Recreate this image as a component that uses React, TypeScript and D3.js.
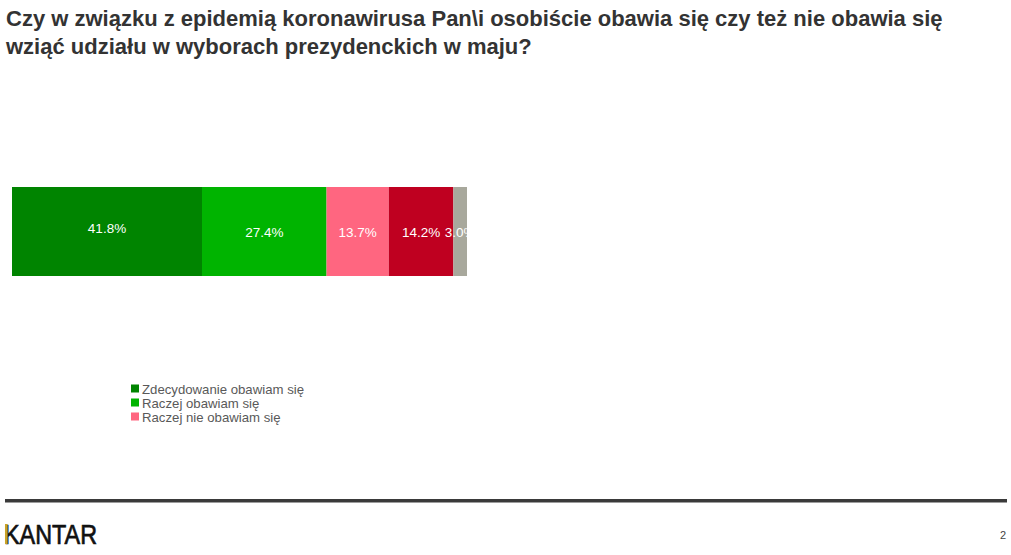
import { useEffect, useRef } from 'react';
import * as d3 from 'd3';

const titleLines = [
  'Czy w związku z epidemią koronawirusa Pan\\i osobiście obawia się czy też nie obawia się',
  'wziąć udziału w wyborach prezydenckich w maju?',
];
const categories = [
  'Zdecydowanie obawiam się',
  'Raczej obawiam się',
  'Raczej nie obawiam się',
  'Zdecydowanie nie obawiam się',
  'Trudno powiedzieć',
];
const values = [41.8, 27.4, 13.7, 14.2, 3.0];
const colors = ['#008400', '#00b400', '#ff6680', '#bf0020', '#a8a89c'];
const legendShown = 3;

export default function App() {
  const svgRef = useRef<SVGSVGElement>(null);

  useEffect(() => {
    document.body.style.margin = '0';
    if (!svgRef.current) return;
    const svg = d3.select(svgRef.current);
    svg.selectAll('*').remove();

    const W = 1011;
    const font = 'Liberation Sans, Arial, sans-serif';

    // title
    const title = svg.append('text')
      .attr('font-family', font)
      .attr('font-weight', 'bold')
      .attr('font-size', 22)
      .attr('fill', '#333333');
    titleLines.forEach((line, i) => {
      title.append('tspan').attr('x', 6).attr('y', 26 + i * 27.5).text(line);
    });

    // stacked bar
    const total = d3.sum(values);
    const x = d3.scaleLinear().domain([0, total]).range([12, 467]);
    const barTop = 187;
    const barH = 89;
    let acc = 0;
    const segs = values.map((v, i) => {
      const s = { start: acc, end: acc + v, v, i };
      acc += v;
      return s;
    });

    const g = svg.append('g');
    g.selectAll('rect.seg')
      .data(segs)
      .enter().append('rect')
      .attr('class', 'seg')
      .attr('x', d => x(d.start))
      .attr('y', barTop)
      .attr('width', d => x(d.end) - x(d.start))
      .attr('height', barH)
      .attr('fill', d => colors[d.i]);

    // clip the last label like in the original
    const clip = svg.append('clipPath').attr('id', 'barclip');
    clip.append('rect').attr('x', 12).attr('y', barTop).attr('width', x(total) - 12).attr('height', barH);

    g.selectAll('text.lbl')
      .data(segs)
      .enter().append('text')
      .attr('class', 'lbl')
      .attr('x', d => (x(d.start) + x(d.end)) / 2)
      .attr('y', (d) => barTop + barH / 2 + (d.i === 0 ? 1.5 : 5.5))
      .attr('text-anchor', 'middle')
      .attr('font-family', font)
      .attr('font-size', 13.5)
      .attr('fill', '#ffffff')
      .attr('clip-path', 'url(#barclip)')
      .text(d => d.v.toFixed(1) + '%');

    // legend
    const legend = svg.append('g');
    categories.slice(0, legendShown).forEach((c, i) => {
      const y = 390 + i * 14;
      legend.append('rect')
        .attr('x', 131).attr('y', y - 5.5).attr('width', 8).attr('height', 8)
        .attr('fill', colors[i]);
      legend.append('text')
        .attr('x', 142).attr('y', y + 3.5)
        .attr('font-family', font)
        .attr('font-size', 13.2)
        .attr('fill', '#595959')
        .text(c);
    });

    // footer
    svg.append('rect')
      .attr('x', 5).attr('y', 499).attr('width', W - 9).attr('height', 3.5)
      .attr('fill', '#3a3a3a');

    svg.append('text')
      .attr('x', 4).attr('y', 544)
      .attr('font-family', font)
      .attr('font-size', 28)
      .attr('textLength', 93)
      .attr('lengthAdjust', 'spacingAndGlyphs')
      .attr('fill', '#111111')
      .attr('stroke', '#111111')
      .attr('stroke-width', 0.7)
      .text('KANTAR');
    svg.append('rect')
      .attr('x', 5).attr('y', 524).attr('width', 2.6).attr('height', 20)
      .attr('fill', '#c9a227');

    svg.append('text')
      .attr('x', 1006).attr('y', 539)
      .attr('text-anchor', 'end')
      .attr('font-family', font)
      .attr('font-size', 11)
      .attr('fill', '#444444')
      .text('2');
  }, []);

  return <svg ref={svgRef} width={1011} height={555} style={{ display: 'block', background: '#fff' }} />;
}
